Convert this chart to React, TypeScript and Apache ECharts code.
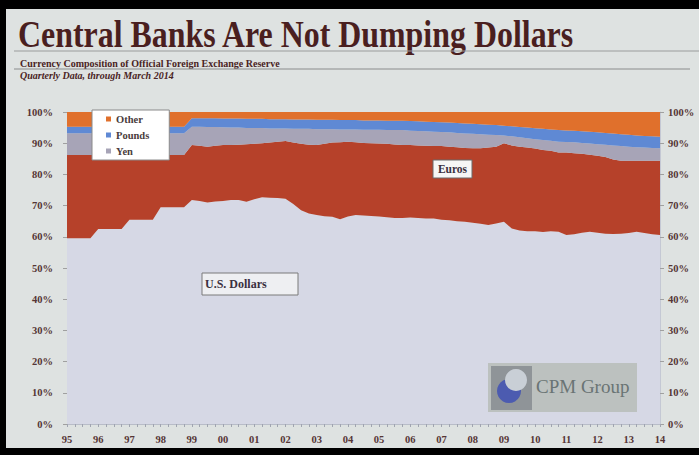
import React, { useEffect, useRef } from "react";
import * as echarts from "echarts";

const years = ["95","96","97","98","99","00","01","02","03","04","05","06","07","08","09","10","11","12","13","14"];
const quarterLabels: string[] = [];
years.forEach((y, i) => {
  if (i < years.length - 1) {
    ["Q1", "Q2", "Q3", "Q4"].forEach((q) => quarterLabels.push(y + " " + q));
  } else {
    quarterLabels.push(y + " Q1");
  }
});

const usDollars = [
  59.5,59.5,59.5,59.5, 62.5,62.5,62.5,62.5, 65.5,65.5,65.5,65.5, 69.5,69.5,69.5,69.5,
  71.8,71.5,71.0,71.3, 71.5,71.8,71.8,71.2, 72.0,72.7,72.5,72.4, 72.2,70.5,68.5,67.5,
  67.0,66.6,66.4,65.6, 66.5,67.0,66.8,66.7, 66.5,66.3,66.0,66.0, 66.2,66.0,65.9,65.9,
  65.5,65.3,65.0,64.8, 64.5,64.2,63.8,64.3, 64.8,62.7,62.0,61.8, 61.8,61.5,61.8,61.6,
  60.6,60.8,61.3,61.6, 61.3,61.0,60.9,61.0, 61.2,61.6,61.2,60.8, 60.6
];
const euros = [
  26.7,26.7,26.7,26.7, 23.7,23.7,23.7,23.7, 20.7,20.7,20.7,20.7, 16.7,16.7,16.7,16.7,
  17.6,17.7,17.9,17.9, 17.9,17.6,17.7,18.5, 17.8,17.3,17.7,18.1, 18.5,19.7,21.3,22.0,
  22.4,23.2,23.8,24.7, 24.0,23.3,23.3,23.3, 23.4,23.5,23.6,23.4, 23.2,23.3,23.3,23.2,
  23.6,23.6,23.7,23.7, 23.9,24.2,24.8,24.6, 25.2,26.6,26.9,26.8, 26.5,26.3,25.8,25.4,
  26.4,26.0,25.3,24.7, 24.7,24.6,23.9,23.4, 23.2,22.8,23.2,23.6, 23.8
];
const yen = [
  7.0,7.0,7.0,7.0, 7.0,7.0,7.0,7.0, 7.0,7.0,7.0,7.0, 7.0,7.0,7.0,7.0,
  5.9,6.1,6.3,6.0, 5.7,5.6,5.5,5.2, 5.1,4.9,4.5,4.2, 4.0,4.4,4.8,5.1,
  5.1,4.7,4.3,4.1, 3.9,4.1,4.2,4.3, 4.4,4.4,4.6,4.8, 4.6,4.6,4.6,4.6,
  4.5,4.6,4.6,4.6, 4.6,4.5,4.1,3.7, 2.5,2.9,3.0,3.0, 3.0,3.2,3.2,3.5,
  3.4,3.5,3.5,3.6, 3.7,3.9,4.5,4.7, 4.5,4.3,4.2,4.1, 4.0
];
const pounds = [
  2.1,2.1,2.1,2.1, 2.1,2.1,2.1,2.1, 2.1,2.1,2.1,2.1, 2.1,2.1,2.1,2.1,
  2.7,2.7,2.8,2.8, 2.8,2.9,2.9,2.9, 2.9,2.9,3.0,3.0, 3.0,3.0,3.0,3.0,
  3.0,3.0,3.0,3.0, 3.0,3.0,3.0,3.0, 3.0,3.0,3.0,3.0, 3.1,3.1,3.1,3.1,
  3.1,3.1,3.2,3.2, 3.2,3.2,3.2,3.2, 3.1,3.2,3.3,3.4, 3.5,3.6,3.6,3.7,
  3.7,3.7,3.7,3.8, 3.8,3.8,3.8,3.8, 3.8,3.8,3.7,3.7, 3.7
];
const other = [
  4.7,4.7,4.7,4.7, 4.7,4.7,4.7,4.7, 4.7,4.7,4.7,4.7, 4.7,4.7,4.7,4.7,
  2.0,2.0,2.0,2.0, 2.1,2.1,2.1,2.2, 2.2,2.2,2.3,2.3, 2.3,2.4,2.4,2.4,
  2.5,2.5,2.5,2.6, 2.6,2.6,2.7,2.7, 2.7,2.8,2.8,2.8, 2.9,3.0,3.1,3.2,
  3.3,3.4,3.5,3.7, 3.8,3.9,4.1,4.2, 4.4,4.6,4.8,5.0, 5.2,5.4,5.6,5.8,
  5.9,6.0,6.2,6.3, 6.5,6.7,6.9,7.1, 7.3,7.5,7.7,7.8, 7.9
];

const SERIF = "'Liberation Serif', 'Times New Roman', serif";
const LABEL_COLOR = "#553535";
const SLIDE_BG = "#dee2e1";

export default function App() {
  const ref = useRef<HTMLDivElement>(null);
  useEffect(() => {
    if (!ref.current) return;
    document.documentElement.style.overflow = "hidden";
    document.body.style.margin = "0";
    document.body.style.overflow = "hidden";
    document.body.style.background = SLIDE_BG;
    const chart = echarts.init(ref.current, null, { renderer: "svg" });
    const area = (name: string, data: number[], color: string) => ({
      name,
      type: "line",
      stack: "share",
      data,
      symbol: "none",
      smooth: false,
      lineStyle: { width: 0 },
      itemStyle: { color },
      areaStyle: { color, opacity: 1 },
      emphasis: { disabled: true },
    });
    chart.setOption({
      animation: false,
      backgroundColor: SLIDE_BG,
      grid: { left: 67, right: 39, top: 112, bottom: 31, containLabel: false },
      legend: {
        data: ["Other", "Pounds", "Yen"],
        orient: "vertical",
        left: 92,
        top: 110,
        backgroundColor: "#ffffff",
        borderColor: "#8a8a8a",
        borderWidth: 1,
        padding: [3, 20, 3, 14],
        itemGap: 4,
        itemWidth: 5,
        itemHeight: 5,
        icon: "rect",
        selectedMode: false,
        textStyle: { fontFamily: SERIF, fontWeight: "bold", fontSize: 10.5, color: "#4a3c3c", lineHeight: 12 },
      },
      xAxis: {
        type: "category",
        data: quarterLabels,
        boundaryGap: false,
        axisLine: { show: true, lineStyle: { color: "#b8bcc8", width: 1 } },
        axisTick: { show: true, interval: 0, length: 3, lineStyle: { color: "#a0a4b0" } },
        axisLabel: {
          interval: 3,
          margin: 10,
          fontFamily: SERIF,
          fontWeight: "bold",
          fontSize: 10.5,
          color: LABEL_COLOR,
          formatter: (v: string) => v.split(" ")[0],
        },
        splitLine: { show: false },
      },
      yAxis: [
        {
          type: "value",
          min: 0,
          max: 100,
          interval: 10,
          position: "left",
          axisLine: { show: false },
          axisTick: { show: true, length: 4, lineStyle: { color: "#a0a0a0" } },
          axisLabel: { margin: 14, fontFamily: SERIF, fontWeight: "bold", fontSize: 10.5, color: LABEL_COLOR, formatter: "{value}%" },
          splitLine: { show: false },
        },
        {
          type: "value",
          min: 0,
          max: 100,
          interval: 10,
          position: "right",
          axisLine: { show: true, lineStyle: { color: "#c4c8d4" } },
          axisTick: { show: true, length: 4, lineStyle: { color: "#a0a0a0" } },
          axisLabel: { margin: 8, fontFamily: SERIF, fontWeight: "bold", fontSize: 10.5, color: LABEL_COLOR, formatter: "{value}%" },
          splitLine: { show: false },
        },
      ],
      series: [
        area("U.S. Dollars", usDollars, "#d6d8e5"),
        area("Euros", euros, "#b6412a"),
        area("Yen", yen, "#a7a4b7"),
        area("Pounds", pounds, "#5f89d4"),
        area("Other", other, "#e0702c"),
      ],
      graphic: [
        { type: "rect", shape: { x: 0, y: 0, width: 699, height: 9 }, style: { fill: "#000" }, z: 100 },
        { type: "rect", shape: { x: 0, y: 0, width: 6, height: 455 }, style: { fill: "#000" }, z: 100 },
        { type: "rect", shape: { x: 0, y: 448, width: 699, height: 7 }, style: { fill: "#000" }, z: 100 },
        {
          type: "text",
          x: 18,
          y: 16,
          scaleX: 0.84,
          style: { text: "Central Banks Are Not Dumping Dollars", fontFamily: SERIF, fontWeight: "bold", fontSize: 38, fill: "#4a1f1f", textVerticalAlign: "top" },
        },
        { type: "line", shape: { x1: 14, y1: 51, x2: 699, y2: 51 }, style: { stroke: "#9a9c9c", lineWidth: 1 } },
        {
          type: "text",
          x: 20,
          y: 58,
          style: { text: "Currency Composition of Official Foreign Exchange Reserve", fontFamily: SERIF, fontWeight: "bold", fontSize: 10, fill: "#4a2424", textVerticalAlign: "top" },
        },
        { type: "line", shape: { x1: 14, y1: 69, x2: 690, y2: 69 }, style: { stroke: "#8a8c8c", lineWidth: 1 } },
        {
          type: "text",
          x: 20,
          y: 70,
          style: { text: "Quarterly Data, through March 2014", fontFamily: SERIF, fontWeight: "bold", fontStyle: "italic", fontSize: 10, fill: "#4a2424", textVerticalAlign: "top" },
        },
        { type: "rect", shape: { x: 433, y: 160, width: 39, height: 18 }, style: { fill: "#f6f6f6", stroke: "#6a6a6a", lineWidth: 1 }, z: 50 },
        { type: "text", x: 452.5, y: 169, style: { text: "Euros", fontFamily: SERIF, fontWeight: "bold", fontSize: 11.5, fill: "#3a3040", textAlign: "center", textVerticalAlign: "middle" }, z: 51 },
        { type: "rect", shape: { x: 202, y: 273, width: 96, height: 22 }, style: { fill: "#eeeff2", stroke: "#7a7a7a", lineWidth: 1 }, z: 50 },
        { type: "text", x: 205, y: 284, style: { text: "U.S. Dollars", fontFamily: SERIF, fontWeight: "bold", fontSize: 12, fill: "#3a3040", textVerticalAlign: "middle" }, z: 51 },
        { type: "rect", shape: { x: 488, y: 363, width: 149, height: 49 }, style: { fill: "#bcc1bf" }, z: 50 },
        { type: "rect", shape: { x: 491, y: 366, width: 41, height: 44 }, style: { fill: "#8f9498" }, z: 51 },
        { type: "circle", shape: { cx: 509, cy: 391, r: 12 }, style: { fill: "#4c5bb0" }, z: 52 },
        { type: "circle", shape: { cx: 516, cy: 380, r: 11 }, style: { fill: "#c9cfd6" }, z: 53 },
        { type: "text", x: 536, y: 386, style: { text: "CPM Group", fontFamily: SERIF, fontSize: 19, fill: "#6a7474", textVerticalAlign: "middle" }, z: 52 },
      ],
    });
    return () => chart.dispose();
  }, []);
  return <div ref={ref} style={{ position: "fixed", left: 0, top: 0, width: 699, height: 455 }} />;
}
